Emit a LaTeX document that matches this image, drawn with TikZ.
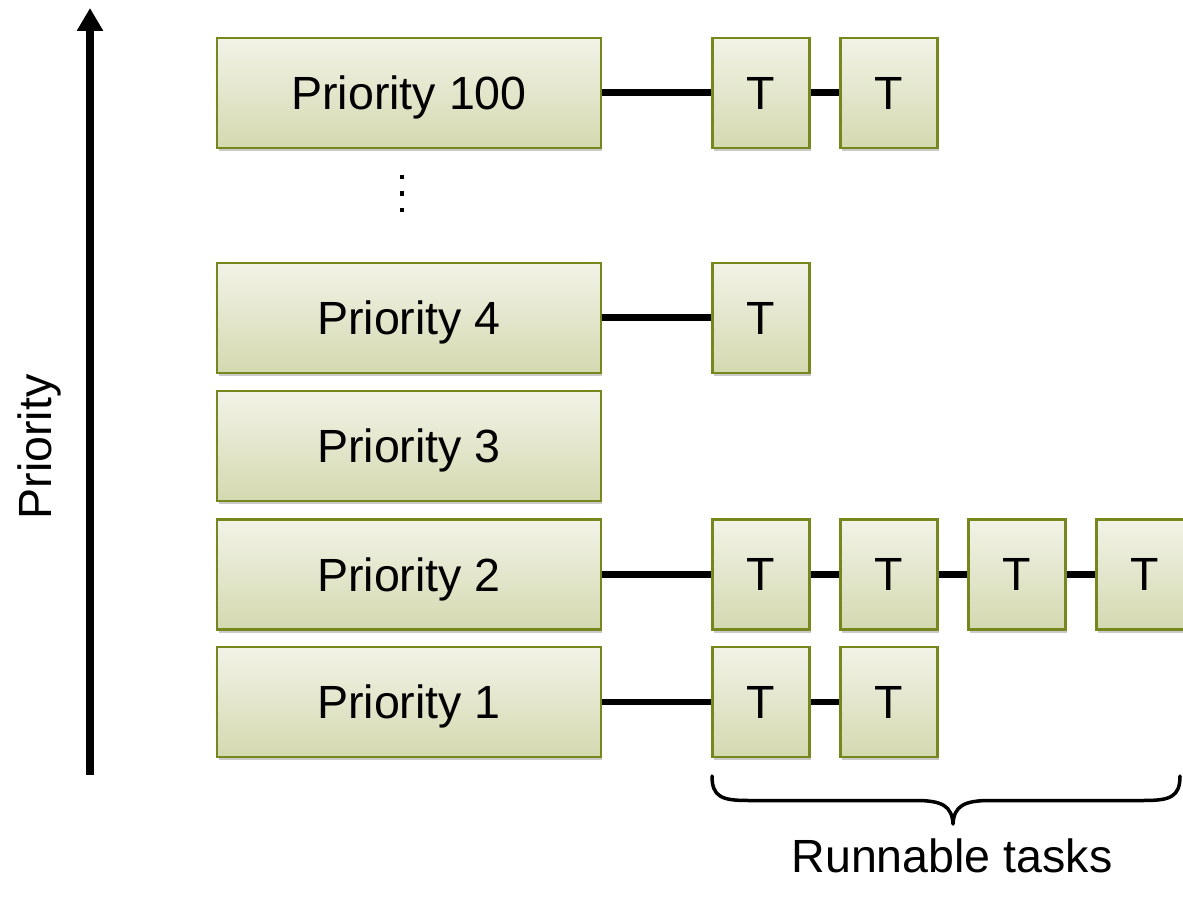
\documentclass[tikz,border=0pt]{standalone}
\usepackage{fontspec}
\setmainfont{Liberation Sans}
\usetikzlibrary{shadows,arrows.meta}
\definecolor{boxtop}{HTML}{F2F3E7}
\definecolor{boxbot}{HTML}{D4D9B0}
\definecolor{boxline}{HTML}{76871E}
\tikzset{
  base/.style={draw=boxline, line width=1.2pt, top color=boxtop, bottom color=boxbot,
    drop shadow={shadow xshift=0.03cm, shadow yshift=-0.07cm, opacity=0.35, fill=black!60},
    inner sep=0pt, text depth=0pt, font=\fontsize{26.5}{30}\selectfont},
  prio/.style={base, minimum width=7.68cm, minimum height=2.2cm},
  task/.style={base, minimum width=1.94cm, minimum height=2.2cm},
  link/.style={line width=0.14cm},
  lbl/.style={font=\fontsize{26.5}{30}\selectfont, inner sep=0pt}
}
\begin{document}
\begin{tikzpicture}[x=0.02cm,y=-0.02cm]
\useasboundingbox (0,0) rectangle (1183,901);
% axis
\coordinate (abot) at (90,775);
\coordinate (atop) at (90,8);
\draw[line width=0.16cm, -{Triangle[length=0.46cm,width=0.5cm]}] (abot) -- (atop);
\node[lbl, rotate=90] (plabel) at (39,447) {Priority};
% priority boxes
\node[prio] (p100) at (409,93) {Priority 100};
\node[prio] (p4) at (409,318) {Priority 4};
\node[prio] (p3) at (409,446) {Priority 3};
\node[prio] (p2) at (409,574.5) {Priority 2};
\node[prio] (p1) at (409,702) {Priority 1};
% dots
\foreach \yy in {177,193.5,210} {\fill (399.5,\yy-2.2) rectangle (404,\yy+2.2);}
% tasks
\node[task] (t100a) at (761,93) {T};
\node[task] (t100b) at (889,93) {T};
\node[task] (t4a) at (761,318) {T};
\node[task] (t2a) at (761,574.5) {T};
\node[task] (t2b) at (889,574.5) {T};
\node[task] (t2c) at (1017,574.5) {T};
\node[task] (t2d) at (1145,574.5) {T};
\node[task] (t1a) at (761,702) {T};
\node[task] (t1b) at (889,702) {T};
% links
\draw[link] (p100.east) -- (t100a.west);
\draw[link] (t100a.east) -- (t100b.west);
\draw[link] (p4.east) -- (t4a.west);
\draw[link] (p2.east) -- (t2a.west);
\draw[link] (t2a.east) -- (t2b.west);
\draw[link] (t2b.east) -- (t2c.west);
\draw[link] (t2c.east) -- (t2d.west);
\draw[link] (p1.east) -- (t1a.west);
\draw[link] (t1a.east) -- (t1b.west);
% brace
\draw[line width=0.07cm, line cap=round, line join=round]
  (712,776) .. controls (712,797) and (722,800.5) .. (748,800.5)
  -- (916,800.5) .. controls (942,800.5) and (952,806) .. (953,824)
  .. controls (954,806) and (964,800.5) .. (990,800.5)
  -- (1144,800.5) .. controls (1170,800.5) and (1180,797) .. (1180,776);
\node[lbl] (rt) at (952,856) {Runnable tasks};
\end{tikzpicture}
\end{document}
